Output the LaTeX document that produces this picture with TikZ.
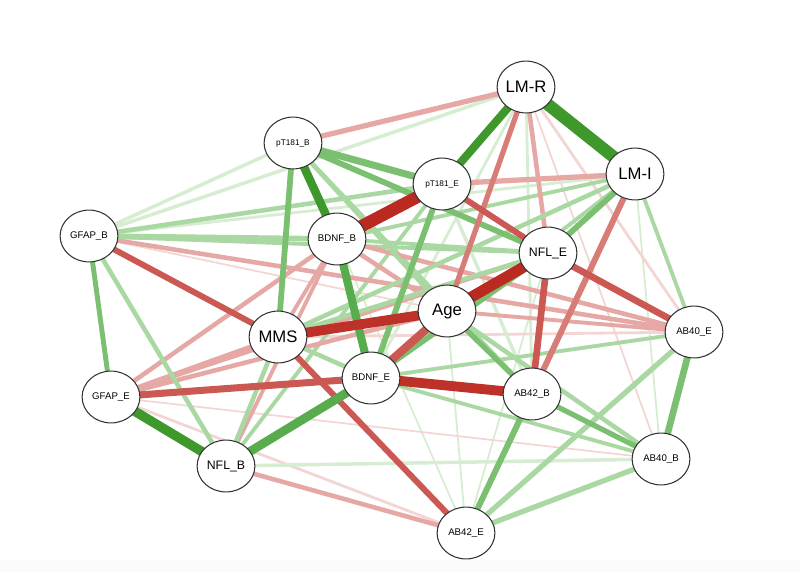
\documentclass[tikz,border=0pt]{standalone}
\usepackage{fontspec}
\setmainfont{Liberation Sans}
\usetikzlibrary{shapes.geometric,backgrounds}

\definecolor{gA}{RGB}{62,152,44}
\definecolor{gB}{RGB}{88,172,78}
\definecolor{gC}{RGB}{122,192,112}
\definecolor{gD}{RGB}{170,216,162}
\definecolor{gE}{RGB}{214,237,209}
\definecolor{rA}{RGB}{186,42,32}
\definecolor{rB}{RGB}{204,88,84}
\definecolor{rC}{RGB}{216,124,120}
\definecolor{rD}{RGB}{230,168,165}
\definecolor{rE}{RGB}{243,214,212}

\begin{document}
\begin{tikzpicture}[x=0.02cm,y=-0.02cm,
  var/.style={ellipse,draw=black!80,line width=0.6pt,fill=white,minimum width=32.9pt,minimum height=29.5pt,inner sep=0pt},
  big/.style={var,font=\fontsize{9.5}{10}\selectfont},
  mid/.style={var,font=\fontsize{7}{8}\selectfont},
  sml/.style={var,font=\fontsize{5.5}{6}\selectfont},
  tny/.style={var,font=\fontsize{4.7}{5}\selectfont}]
\useasboundingbox (0,0) rectangle (800,572);
\fill[black!2] (0,560) rectangle (800,572);

\node[big] (LMR) at (526,87) {LM-R};
\node[big] (LMI) at (635,174) {LM-I};
\node[tny] (pTB) at (293,143) {pT181\_B};
\node[tny] (pTE) at (442,184) {pT181\_E};
\node[sml] (GFB) at (89,236) {GFAP\_B};
\node[sml] (BDB) at (337,239) {BDNF\_B};
\node[mid] (NFE) at (548,253) {NFL\_E};
\node[big] (Age) at (447,311) {Age};
\node[sml] (A40E) at (694,332) {AB40\_E};
\node[big] (MMS) at (278,337) {MMS};
\node[sml] (BDE) at (371,378) {BDNF\_E};
\node[sml] (GFE) at (111,397) {GFAP\_E};
\node[sml] (A42B) at (532,394) {AB42\_B};
\node[mid] (NFB) at (226,466) {NFL\_B};
\node[sml] (A40B) at (661,459) {AB40\_B};
\node[sml] (A42E) at (466,533) {AB42\_E};

\begin{scope}[on background layer]
% faint edges
\draw[gE,line width=1pt] (A42E.center) -- (NFE.center);
\draw[gE,line width=1pt] (A42E.center) -- (BDB.center);
\draw[gE,line width=1pt] (A42E.center) -- (Age.center);
\draw[gE,line width=1pt] (LMI.center) -- (A40B.center);
\draw[rE,line width=1pt] (GFB.center) -- (Age.center);
\draw[rE,line width=1pt] (LMR.center) -- (A40B.center);
\draw[rE,line width=1pt] (GFE.center) -- (A40B.center);
\draw[rE,line width=1.6pt] (GFE.center) -- (A42E.center);
\draw[rE,line width=1.6pt] (MMS.center) -- (A40E.center);
\draw[rE,line width=1.6pt] (LMR.center) -- (A40E.center);
\draw[gE,line width=1.6pt] (LMR.center) -- (A42B.center);
\draw[gE,line width=1.6pt] (LMR.center) -- (BDE.center);
\draw[gE,line width=1.6pt] (GFB.center) -- (LMI.center);
\draw[gE,line width=2pt] (GFB.center) -- (pTB.center);
\draw[gE,line width=2pt] (GFB.center) -- (LMR.center);
\draw[gE,line width=2pt] (NFB.center) -- (A40B.center);
\draw[gE,line width=2pt] (pTE.center) -- (A42B.center);
% light edges
\draw[gD,line width=2.2pt] (GFB.center) -- (NFE.center);
\draw[gD,line width=2.2pt] (BDE.center) -- (A40E.center);
\draw[gD,line width=2.2pt] (BDE.center) -- (A40B.center);
\draw[gD,line width=2.2pt] (NFB.center) -- (pTE.center);
\draw[gD,line width=2.2pt] (pTB.center) -- (A42B.center);
\draw[gD,line width=2.2pt] (LMI.center) -- (BDB.center);
\draw[gD,line width=2.2pt] (LMI.center) -- (BDE.center);
\draw[gD,line width=2.2pt] (BDB.center) -- (NFE.center);
\draw[gD,line width=2.2pt] (LMI.center) -- (A40E.center);
\draw[rD,line width=2.2pt] (Age.center) -- (A40E.center);
\draw[rD,line width=2.2pt] (NFB.center) -- (BDB.center);
\draw[rD,line width=2.2pt] (GFE.center) -- (NFE.center);
\draw[rD,line width=2.2pt] (BDB.center) -- (MMS.center);
\draw[rD,line width=2.6pt] (GFB.center) -- (A40E.center);
\draw[rD,line width=2.6pt] (BDB.center) -- (A40E.center);
\draw[rD,line width=2.6pt] (GFE.center) -- (Age.center);
\draw[rD,line width=2.6pt] (GFE.center) -- (BDB.center);
\draw[rD,line width=2.6pt] (MMS.center) -- (GFE.center);
\draw[rD,line width=2.6pt] (NFB.center) -- (A42E.center);
\draw[rD,line width=2.6pt] (BDB.center) -- (Age.center);
\draw[rD,line width=2.6pt] (LMR.center) -- (NFE.center);
\draw[gD,line width=2.6pt] (pTB.center) -- (Age.center);
\draw[gD,line width=2.6pt] (Age.center) -- (A40B.center);
\draw[gD,line width=2.6pt] (LMI.center) -- (MMS.center);
\draw[gD,line width=2.6pt] (MMS.center) -- (NFE.center);
\draw[gD,line width=2.6pt] (MMS.center) -- (NFB.center);
\draw[gD,line width=2.6pt] (GFB.center) -- (NFB.center);
\draw[gD,line width=2.6pt] (GFB.center) -- (pTE.center);
\draw[gD,line width=2.6pt] (BDE.center) -- (MMS.center);
\draw[gD,line width=3.2pt] (GFB.center) -- (BDB.center);
\draw[gD,line width=3pt] (A40E.center) -- (A42E.center);
\draw[gD,line width=3pt] (A40B.center) -- (A42E.center);
\draw[rD,line width=3pt] (LMR.center) -- (pTB.center);
\draw[rD,line width=3pt] (LMI.center) -- (pTE.center);
% medium edges
\draw[gC,line width=2.8pt] (GFB.center) -- (GFE.center);
\draw[gC,line width=3pt] (A42B.center) -- (A40B.center);
\draw[gC,line width=3.4pt] (A42B.center) -- (A42E.center);
\draw[gC,line width=3.8pt] (A40E.center) -- (A40B.center);
\draw[gC,line width=3pt] (NFE.center) -- (BDE.center);
\draw[gC,line width=3pt] (Age.center) -- (A42B.center);
\draw[gC,line width=3.3pt] (LMI.center) -- (NFE.center);
\draw[gC,line width=3.3pt] (pTB.center) -- (MMS.center);
\draw[gC,line width=3.3pt] (pTE.center) -- (BDE.center);
\draw[gC,line width=3.3pt] (pTB.center) -- (NFE.center);
\draw[gC,line width=4pt] (pTB.center) -- (pTE.center);
\draw[rC,line width=3pt] (LMR.center) -- (Age.center);
\draw[rC,line width=3.4pt] (LMI.center) -- (A42B.center);
\draw[rB,line width=3.4pt] (GFB.center) -- (MMS.center);
\draw[rB,line width=3.4pt] (MMS.center) -- (A42E.center);
\draw[rB,line width=3.4pt] (pTE.center) -- (NFE.center);
\draw[rB,line width=3.8pt] (NFE.center) -- (A42B.center);
\draw[rB,line width=3.8pt] (NFE.center) -- (A40E.center);
\draw[rB,line width=4pt] (BDE.center) -- (GFE.center);
\draw[rB,line width=4.6pt] (Age.center) -- (BDE.center);
% strong edges
\draw[gB,line width=4.6pt] (BDB.center) -- (BDE.center);
\draw[gB,line width=5pt] (BDE.center) -- (NFB.center);
\draw[gA,line width=4.8pt] (pTB.center) -- (BDB.center);
\draw[gA,line width=5.4pt] (GFE.center) -- (NFB.center);
\draw[gA,line width=4.6pt] (LMR.center) -- (pTE.center);
\draw[gA,line width=7pt] (LMR.center) -- (LMI.center);
\draw[rA!85!rB,line width=5.6pt] (Age.center) -- (MMS.center);
\draw[rA!85!rB,line width=5.6pt] (BDE.center) -- (A42B.center);
\draw[rA,line width=6.2pt] (NFE.center) -- (Age.center);
\draw[rA,line width=7pt] (pTE.center) -- (BDB.center);
\end{scope}

\end{tikzpicture}
\end{document}
